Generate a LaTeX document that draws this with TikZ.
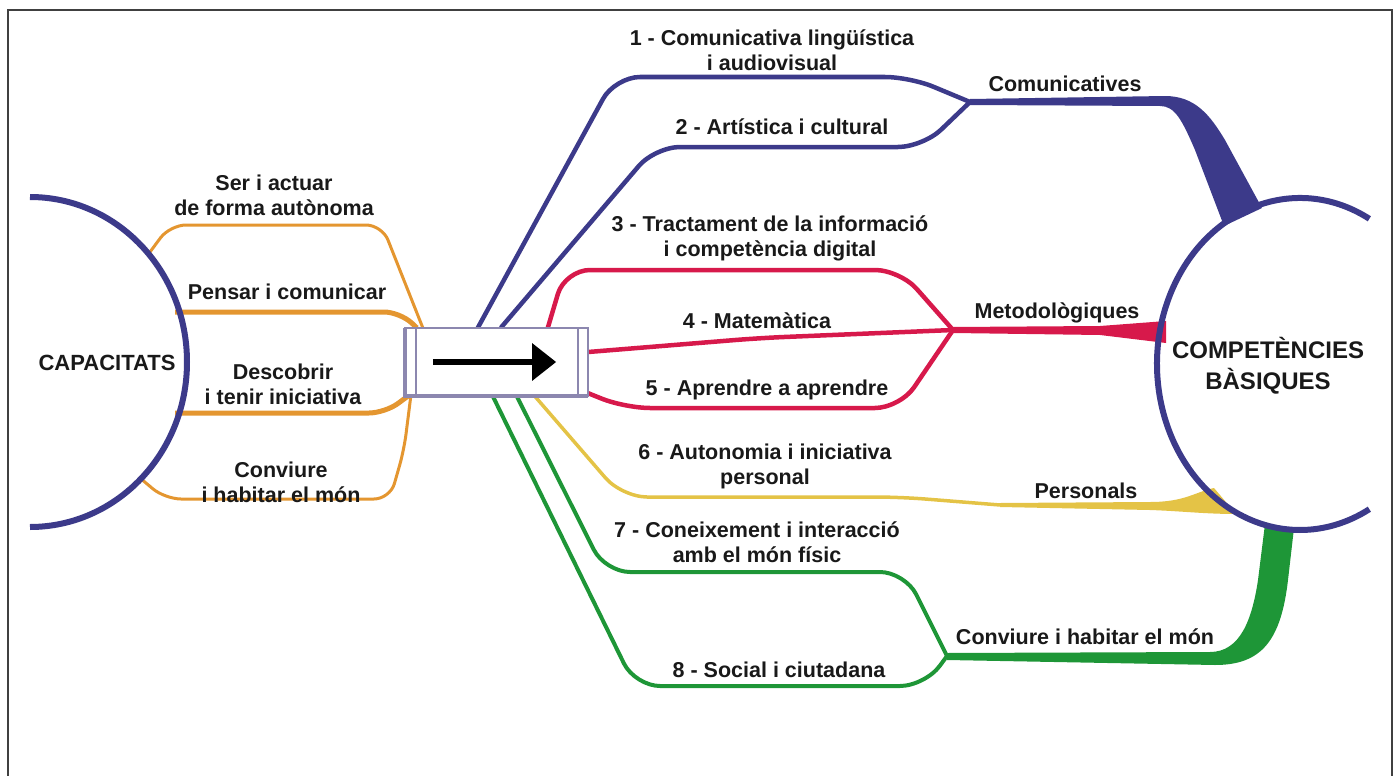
\documentclass[tikz,border=0pt]{standalone}
\usepackage{fontspec}
\setmainfont{Liberation Sans}
\usetikzlibrary{arrows.meta}

\definecolor{capBlue}{RGB}{60,58,138}
\definecolor{capOrange}{RGB}{228,150,48}
\definecolor{capRed}{RGB}{215,25,75}
\definecolor{capYellow}{RGB}{228,195,70}
\definecolor{capGreen}{RGB}{30,150,55}
\definecolor{boxGray}{RGB}{140,135,175}

\begin{document}
\begin{tikzpicture}[
  x=1pt, y=-1pt,
  lbl/.style={
    font=\fontsize{21.5}{25}\selectfont\bfseries,
    align=center,
    inner sep=0pt,
    text=black!90
  },
  bigtitle/.style={
    font=\fontsize{#1}{31}\selectfont\bfseries,
    align=center,
    inner sep=0pt,
    text=black!90
  },
  ringline/.style={draw=capBlue, line width=6pt},
  orangeline/.style={draw=capOrange, line width=#1, rounded corners=16pt},
  orangeline/.default=3pt,
  blueline/.style={draw=capBlue, line width=4.5pt, rounded corners=25pt},
  redline/.style={draw=capRed, line width=4.5pt, rounded corners=25pt},
  yellowline/.style={draw=capYellow, line width=3.5pt, rounded corners=25pt},
  greenline/.style={draw=capGreen, line width=4pt, rounded corners=25pt},
  boxline/.style={draw=boxGray, line width=2pt}
  ]
  \useasboundingbox (0,0) rectangle (1400,776);
  \draw[line width=2pt, black!75] (8,776) -- (8,10) -- (1392,10) -- (1392,776);

  % centres and junctions
  \coordinate (lc) at (30,362);
  \coordinate (rc) at (1300,364);
  \coordinate (jc) at (970,102);
  \coordinate (jm) at (953,330);
  \coordinate (jp) at (1000,505);
  \coordinate (jg) at (947,656);
  \node[minimum width=183pt, minimum height=68pt, inner sep=0pt] (hub) at (496.5,362) {};

  % capacitats
  \draw[orangeline] (150,252) -- (170,225) -- (382,225) -- ([xshift=18pt]hub.north west);
  \draw[orangeline=5pt] (175,312) -- (400,312) -- ([xshift=12pt]hub.north west);
  \draw[orangeline=5pt] (175,413) -- (385,413) -- ([xshift=3pt]hub.south west);
  \draw[orangeline] (140,478) -- (165,499) -- (390,499) -- (404,450) -- ([xshift=6pt]hub.south west);

  % competencies
  \draw[blueline] ([xshift=73pt]hub.north west) -- (615,77) -- (910,77) -- (jc);
  \draw[blueline] ([xshift=96pt]hub.north west) -- (655,147) -- (923,147) -- (jc);
  \draw[redline] ([xshift=143pt]hub.north west) -- (565,270) -- (900,270) -- (jm);
  \draw[redline] ([yshift=10pt]hub.east) -- (760,338) -- (jm);
  \draw[redline] ([yshift=3pt]hub.south east) -- (625,408) -- (900,408) -- (jm);
  \draw[yellowline] ([xshift=130pt]hub.south west) -- (622,497) -- (900,497) -- (jp);
  \draw[greenline] ([xshift=112pt]hub.south west) -- (605,572) -- (905,572) -- (jg);
  \draw[greenline] ([xshift=88pt]hub.south west) -- (635,686) -- (925,686) -- (jg);

  % trunks
  \fill[capBlue] ([yshift=3pt]jc) -- (1165,96) .. controls (1195,96) and (1210,115) .. (1225,140)
    -- (1262,208) -- (1224,226) -- (1195,150) .. controls (1182,120) and (1175,106) .. (1160,106)
    -- ([yshift=-3pt]jc) -- cycle;
  \fill[capRed] ([yshift=3pt]jm) -- (1100,326) -- (1166,321) -- (1166,343) -- (1100,335)
    -- ([yshift=-3pt]jm) -- cycle;
  \fill[capYellow] ([yshift=2pt]jp) -- (1150,502) .. controls (1185,502) and (1195,492) .. (1214,488)
    -- (1236,514) .. controls (1205,514) and (1180,511) .. (1150,510) -- ([yshift=-2pt]jp) -- cycle;
  \fill[capGreen] ([yshift=3pt]jg) -- (1210,652) .. controls (1240,652) and (1252,620) .. (1258,580)
    -- (1265,524) -- (1294,528) -- (1288,580) .. controls (1281,640) and (1262,665) .. (1215,665)
    -- ([yshift=-4pt]jg) -- cycle;

  % rings
  \draw[ringline] (lc) ++(-90:157 and 165) arc[start angle=-90, end angle=90, x radius=157, y radius=165];
  \draw[ringline] (rc) ++(-61:143 and 166) arc[start angle=-61, end angle=-299, x radius=143, y radius=166];

  % central box
  \draw[boxline, fill=white] (hub.south west) rectangle (hub.north east);
  \draw[boxline, line width=3.5pt] (hub.north west) -- (hub.south west) -- (hub.south east);
  \draw[boxline] ([xshift=11pt]hub.north west) -- ([xshift=11pt]hub.south west);
  \draw[boxline] ([xshift=-10pt]hub.north east) -- ([xshift=-10pt]hub.south east);
  \draw[line width=6pt, -{Triangle[length=24pt,width=36pt]}] ([xshift=28pt]hub.west) -- ([xshift=-32pt]hub.east);

  % labels
  \node[bigtitle=22] (cap) at (107,363) {CAPACITATS};
  \node[bigtitle=24] (cb) at (1268,366) {COMPETÈNCIES\\BÀSIQUES};
  \node[lbl] (ser) at (274,195) {Ser i actuar\\de forma autònoma};
  \node[lbl] (pen) at (287,292) {Pensar i comunicar};
  \node[lbl] (des) at (283,384) {Descobrir\\i tenir iniciativa};
  \node[lbl] (con) at (281,482) {Conviure\\i habitar el món};
  \node[lbl] (l1) at (772,50) {1 - Comunicativa lingüística\\i audiovisual};
  \node[lbl] (l2) at (782,127) {2 - Artística i cultural};
  \node[lbl] (l3) at (770,238) {3 - Tractament de la informació\\i competència digital};
  \node[lbl] (l4) at (757,321) {4 - Matemàtica};
  \node[lbl] (l5) at (767,390) {5 - Aprendre a aprendre};
  \node[lbl] (l6) at (765,466) {6 - Autonomia i iniciativa\\personal};
  \node[lbl] (l7) at (757,542) {7 - Coneixement i interacció\\amb el món físic};
  \node[lbl] (l8) at (779,670) {8 - Social i ciutadana};
  \node[lbl] (com) at (1065,84) {Comunicatives};
  \node[lbl] (met) at (1057,313) {Metodològiques};
  \node[lbl] (per) at (1086,491) {Personals};
  \node[lbl] (cv) at (1085,637) {Conviure i habitar el món};
\end{tikzpicture}
\end{document}
